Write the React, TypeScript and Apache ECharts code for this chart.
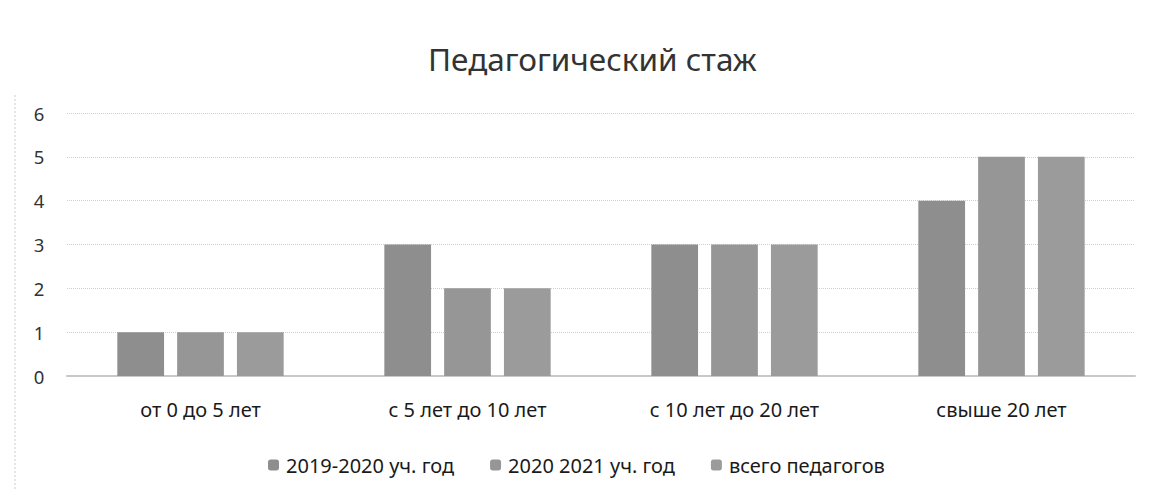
import React, { useEffect, useRef } from "react";
import * as echarts from "echarts";

const categories = ["от 0 до 5 лет", "с 5 лет до 10 лет", "с 10 лет до 20 лет", "свыше 20 лет"];
const seriesNames = ["2019-2020 уч. год", "2020 2021 уч. год", "всего педагогов"];
const s2019 = [1, 3, 3, 4];
const s2020 = [1, 2, 3, 5];
const sTotal = [1, 2, 3, 5];
const colors = ["#8e8e8e", "#969696", "#9b9b9b"];

export default function App() {
  const ref = useRef<HTMLDivElement>(null);
  useEffect(() => {
    if (!ref.current) return;
    const chart = echarts.init(ref.current, null, { renderer: "svg" });
    const font = "'Noto Sans', 'Open Sans', sans-serif";
    const data = [s2019, s2020, sTotal];
    chart.setOption({
      animation: false,
      backgroundColor: "#ffffff",
      title: {
        text: "Педагогический стаж",
        left: 428,
        top: 42,
        padding: 0,
        textStyle: { fontFamily: font, fontSize: 31.5, fontWeight: "normal", color: "#333" },
      },
      legend: {
        top: 455,
        left: 268,
        padding: 0,
        itemWidth: 11,
        itemHeight: 11,
        itemGap: 36,
        textStyle: { fontFamily: font, fontSize: 20, color: "#1a1a1a", padding: [0, 0, 0, 2] },
        data: seriesNames,
      },
      grid: { left: 67, right: 19, top: 113, bottom: 123 },
      xAxis: {
        type: "category",
        data: categories,
        axisTick: { show: false },
        axisLine: { lineStyle: { color: "#c8c8c8", width: 2 } },
        axisLabel: { fontFamily: font, fontSize: 20, color: "#1a1a1a", margin: 23 },
      },
      yAxis: {
        type: "value",
        min: 0,
        max: 6,
        interval: 1,
        axisLabel: { fontFamily: font, fontSize: 18.5, color: "#333", margin: 28, align: "center" },
        splitLine: { lineStyle: { color: "#cfcfcf", type: "dotted" } },
      },
      graphic: [
        { type: "line", shape: { x1: 15, y1: 95, x2: 15, y2: 499 }, style: { stroke: "#cccccc", lineDash: [2, 2] } },
      ],
      series: seriesNames.map((name, i) => ({
        name,
        type: "bar",
        data: data[i],
        barWidth: "17.5%",
        barGap: "28%",
        itemStyle: { color: colors[i] },
      })),
    });
    return () => chart.dispose();
  }, []);
  return <div ref={ref} style={{ width: 1154, height: 499, margin: -8 }} />;
}
